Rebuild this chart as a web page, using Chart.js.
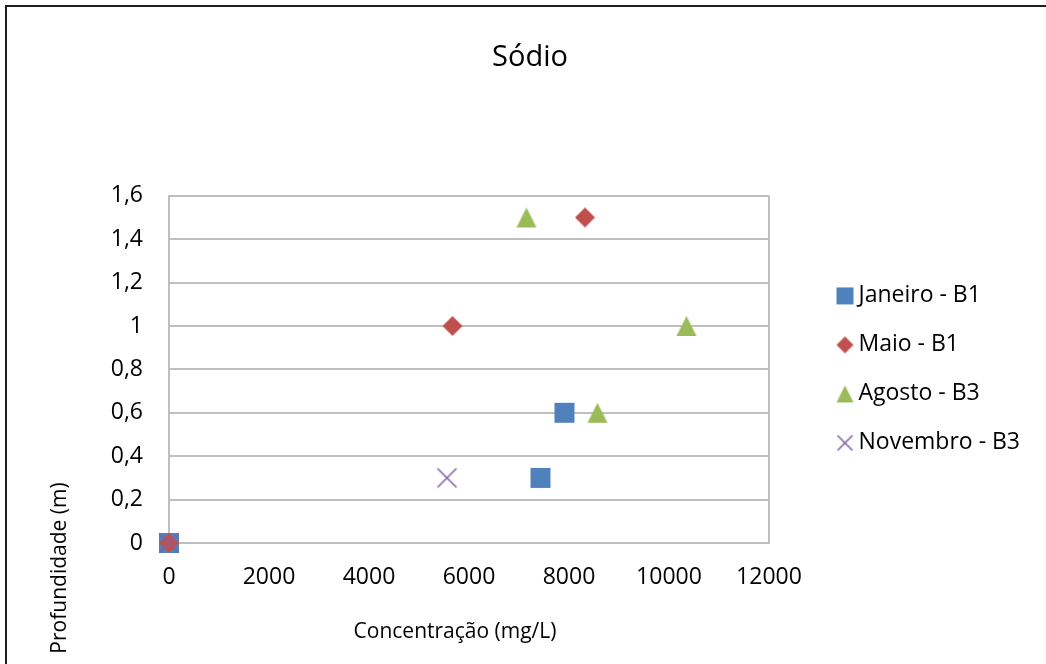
<!DOCTYPE html>
<html>
<head>
<meta charset="utf-8">
<title>Sódio</title>
<script src="https://cdn.jsdelivr.net/npm/chart.js@4.4.1/dist/chart.umd.min.js"></script>
<style>
  html, body { margin: 0; padding: 0; background: #fff; overflow: hidden; }
  #wrap { position: relative; width: 1046px; height: 664px; }
  #frame { position: absolute; left: 5px; top: 5px; right: -4px; bottom: -4px;
           border-top: 2px solid #1f1f1f; border-left: 2px solid #1f1f1f; pointer-events: none; }
  canvas { display: block; }
</style>
</head>
<body>
<div id="wrap">
  <canvas id="chart" width="1046" height="664"></canvas>
  <div id="frame"></div>
</div>
<script>
// Concentração (mg/L) x Profundidade (m)
const seriesNames = ['Janeiro - B1', 'Maio - B1', 'Agosto - B3', 'Novembro - B3'];
const janeiroB1 = [[0, 0], [7910, 0.6], [7430, 0.3]];
const maioB1 = [[0, 0], [5670, 1], [8320, 1.5]];
const agostoB3 = [[7150, 1.5], [10350, 1], [8570, 0.6]];
const novembroB3 = [[0, 0], [5560, 0.3]];
const xTickLabels = ['0', '2000', '4000', '6000', '8000', '10000', '12000'];
const yTickLabels = ['0', '0,2', '0,4', '0,6', '0,8', '1', '1,2', '1,4', '1,6'];
const xTitle = 'Concentração (mg/L)';
const yTitle = 'Profundidade (m)';

const colors = ['#4F81BD', '#C0504D', '#9BBB59', '#7F63A1'];
const shapes = ['square', 'diamond', 'triangle', 'cross'];
const gridColor = '#BFBFBF';

Chart.defaults.font.family = '"Open Sans", sans-serif';
Chart.defaults.color = '#000';

// small canvas markers, Excel style
function marker(shape, color, size) {
  const c = document.createElement('canvas');
  c.width = c.height = size + 4;
  const g = c.getContext('2d');
  const m = c.width / 2, h = size / 2;
  g.fillStyle = color;
  g.strokeStyle = color;
  g.beginPath();
  if (shape === 'square') {
    g.rect(m - h, m - h, size, size);
  } else if (shape === 'diamond') {
    g.moveTo(m, m - h); g.lineTo(m + h, m); g.lineTo(m, m + h); g.lineTo(m - h, m); g.closePath();
  } else if (shape === 'triangle') {
    g.moveTo(m, m - h); g.lineTo(m + h, m + h); g.lineTo(m - h, m + h); g.closePath();
  }
  if (shape === 'cross') {
    g.lineWidth = 1.6;
    g.moveTo(m - h, m - h); g.lineTo(m + h, m + h);
    g.moveTo(m + h, m - h); g.lineTo(m - h, m + h);
    g.stroke();
  } else {
    g.fill();
  }
  return c;
}

const plotSizes = [20, 20, 20, 19];
const legendSizes = [17, 17, 17, 15];
const plotMarkers = shapes.map((s, i) => marker(s, colors[i], plotSizes[i]));
const legendMarkers = shapes.map((s, i) => marker(s, colors[i], legendSizes[i]));

const toPoints = arr => arr.map(([x, y]) => ({ x, y }));
const seriesData = [janeiroB1, maioB1, agostoB3, novembroB3];

// later series sit on top at the origin
const datasets = seriesData.map((d, i) => ({
  label: seriesNames[i],
  data: toPoints(d),
  pointStyle: plotMarkers[i],
  pointRadius: 10,
  backgroundColor: colors[i],
  borderColor: colors[i],
  order: 3 - i,
  clip: false
}));

// push the legend away from the plot area and let it run to the edge
const legendShift = {
  id: 'legendShift',
  afterLayout(chart) {
    const lg = chart.legend;
    lg.left = chart.chartArea.right + 48;
    lg.right = chart.width;
    lg.width = lg.right - lg.left;
  }
};

// axis titles placed by hand: the vertical one sits low, below the plot
const axisTitles = {
  id: 'axisTitles',
  afterDraw(chart) {
    const ctx = chart.ctx;
    ctx.save();
    ctx.font = '21px "Open Sans"';
    ctx.fillStyle = '#000';
    ctx.textAlign = 'center';
    ctx.textBaseline = 'middle';
    ctx.fillText(xTitle, 455, 632);
    ctx.translate(60, 568);
    ctx.rotate(-Math.PI / 2);
    ctx.fillText(yTitle, 0, 0);
    ctx.restore();
  }
};

new Chart(document.getElementById('chart').getContext('2d'), {
  type: 'scatter',
  data: { datasets: datasets },
  plugins: [legendShift, axisTitles],
  options: {
    responsive: false,
    animation: false,
    layout: { padding: { left: 100, right: 86, top: 0, bottom: 0 } },
    plugins: {
      title: {
        display: true,
        text: 'Sódio',
        color: '#000',
        font: { size: 29, weight: 'normal' },
        padding: { top: 40, bottom: 121 }
      },
      legend: {
        position: 'right',
        fullSize: false,
        maxWidth: 191,
        labels: {
          usePointStyle: true,
          boxWidth: 4,
          padding: 26,
          color: '#000',
          font: { size: 23 },
          sort: (a, b) => a.datasetIndex - b.datasetIndex,
          generateLabels(chart) {
            const items = Chart.defaults.plugins.legend.labels.generateLabels(chart);
            items.forEach(item => { item.pointStyle = legendMarkers[item.datasetIndex]; });
            return items;
          }
        }
      },
      tooltip: { enabled: false }
    },
    scales: {
      x: {
        type: 'linear',
        min: 0,
        max: 12000,
        afterFit(scale) { scale.height = 121; },
        ticks: {
          stepSize: 2000,
          padding: 21,
          color: '#000',
          font: { size: 23 },
          callback: (v, i) => xTickLabels[i]
        },
        grid: {
          drawTicks: false,
          lineWidth: 2,
          color: ctx => (ctx.tick && ctx.tick.value === 12000) ? gridColor : 'rgba(0,0,0,0)'
        },
        border: { display: true, color: gridColor, width: 2 }
      },
      y: {
        min: 0,
        max: 1.6,
        afterFit(scale) { scale.width = 69; },
        ticks: {
          stepSize: 0.2,
          padding: 26,
          color: '#000',
          font: { size: 23 },
          callback: (v, i) => yTickLabels[i]
        },
        grid: { drawTicks: false, lineWidth: 2, color: gridColor },
        border: { display: true, color: gridColor, width: 2 }
      }
    }
  }
});
</script>
</body>
</html>
